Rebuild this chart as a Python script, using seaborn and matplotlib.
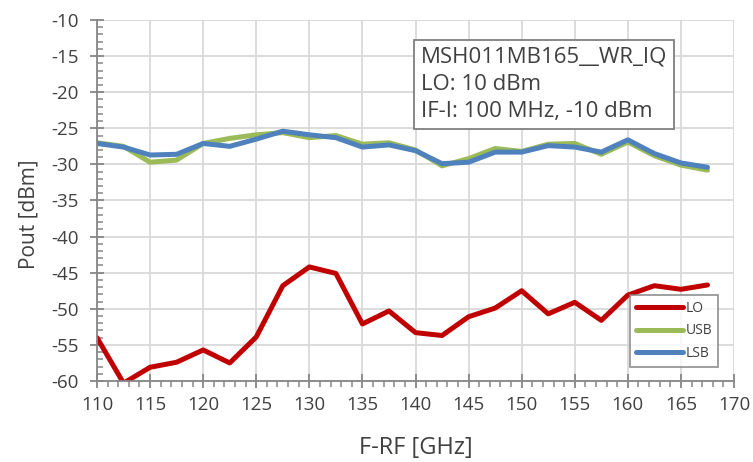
import numpy as np
import pandas as pd
import matplotlib
matplotlib.use("Agg")
import matplotlib.pyplot as plt
import seaborn as sns
from matplotlib.ticker import MultipleLocator

freq = [110, 112.5, 115, 117.5, 120, 122.5, 125, 127.5, 130, 132.5, 135, 137.5,
        140, 142.5, 145, 147.5, 150, 152.5, 155, 157.5, 160, 162.5, 165, 167.5]
lo = [-54.0, -60.3, -58.1, -57.4, -55.7, -57.5, -53.9, -46.8, -44.2, -45.1, -52.1, -50.3,
      -53.3, -53.7, -51.1, -49.9, -47.5, -50.7, -49.1, -51.6, -48.1, -46.8, -47.3, -46.7]
usb = [-27.0, -27.5, -29.7, -29.4, -27.1, -26.4, -25.9, -25.6, -26.3, -26.0, -27.2, -27.0,
       -28.0, -30.2, -29.2, -27.8, -28.2, -27.2, -27.1, -28.6, -26.9, -28.8, -30.1, -30.8]
lsb = [-27.1, -27.6, -28.7, -28.6, -27.1, -27.5, -26.5, -25.4, -25.9, -26.3, -27.6, -27.3,
       -28.1, -29.9, -29.7, -28.3, -28.3, -27.4, -27.6, -28.3, -26.6, -28.5, -29.8, -30.4]
series = ["LO", "USB", "LSB"]
colors = ["#c00000", "#9bbb59", "#4f81bd"]
annotation = "MSH011MB165__WR_IQ\nLO: 10 dBm\nIF-I: 100 MHz, -10 dBm"

sns.set_theme(style="white")
plt.rcParams["font.family"] = ["Open Sans", "DejaVu Sans"]
plt.rcParams["axes.unicode_minus"] = False
txt = "#404040"

fig = plt.figure(figsize=(7.53, 4.62), dpi=100)
ax = fig.add_axes([97/753, 1-381/462, (734-97)/753, (381-20)/462])

df = pd.DataFrame({
    "F-RF [GHz]": freq * 3,
    "Pout [dBm]": lo + usb + lsb,
    "series": ["LO"] * len(freq) + ["USB"] * len(freq) + ["LSB"] * len(freq),
})
sns.lineplot(data=df, x="F-RF [GHz]", y="Pout [dBm]", hue="series", hue_order=series,
             palette=colors, linewidth=3.6, ax=ax, sort=False)

ax.set_xlim(110, 170)
ax.set_ylim(-60, -10)
ax.xaxis.set_major_locator(MultipleLocator(5))
ax.xaxis.set_minor_locator(MultipleLocator(1))
ax.yaxis.set_major_locator(MultipleLocator(5))
ax.yaxis.set_minor_locator(MultipleLocator(1))
ax.grid(True, which="major", color="#d9d9d9", linewidth=1.3)
ax.set_axisbelow(True)
for s in ["top", "right"]:
    ax.spines[s].set_visible(False)
for s in ["left", "bottom"]:
    ax.spines[s].set_color("#868686")
    ax.spines[s].set_linewidth(1.3)
ax.tick_params(which="major", direction="inout", length=10, width=1.3, color="#868686",
               labelsize=13.5, labelcolor=txt, left=True, bottom=True)
ax.tick_params(axis="y", which="major", pad=8)
ax.tick_params(axis="x", which="major", pad=6)
ax.tick_params(axis="x", which="minor", direction="out", length=4, width=1.1,
               color="#868686", bottom=True)
ax.tick_params(axis="y", which="minor", direction="in", length=4, width=1.1,
               color="#868686", left=True)
ax.set_xlabel("F-RF [GHz]", fontsize=17, color=txt)
ax.set_ylabel("Pout [dBm]", fontsize=15, color=txt)
ax.xaxis.set_label_coords(0.5, (381-436)/361)
ax.yaxis.set_label_coords((39-97)/637, (381-214)/361)

leg = ax.legend(loc="lower right", bbox_to_anchor=(0.975, 0.04), fontsize=10,
                frameon=True, fancybox=False, edgecolor="#7f7f7f", handlelength=3.4,
                borderpad=0.4, labelspacing=0.55, handletextpad=0.2, borderaxespad=0)
leg.get_frame().set_linewidth(1.3)
for t in leg.get_texts():
    t.set_color(txt)

ax.text(421/753, 1-47/462, annotation, transform=fig.transFigure, fontsize=16,
        color=txt, va="top", ha="left", linespacing=1.38,
        bbox=dict(boxstyle="square,pad=0.3", facecolor="white", edgecolor="#7f7f7f",
                  linewidth=1.3))

fig.savefig("out.png", dpi=100, facecolor="white")
